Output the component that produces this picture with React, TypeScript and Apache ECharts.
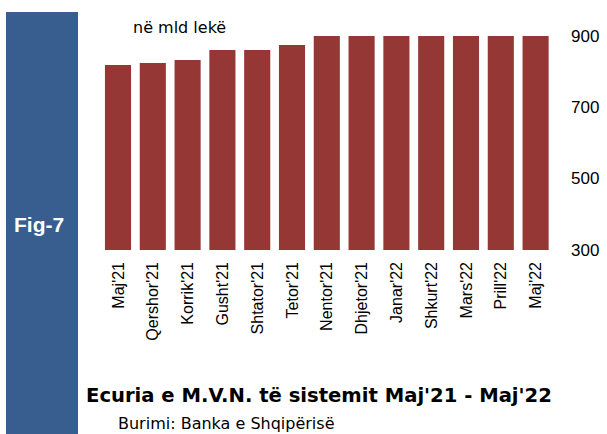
import React, { useEffect, useRef } from "react";
import * as echarts from "echarts";

const categories = ["Maj'21", "Qershor'21", "Korrik'21", "Gusht'21", "Shtator'21", "Tetor'21", "Nentor'21", "Dhjetor'21", "Janar'22", "Shkurt'22", "Mars'22", "Prill'22", "Maj'22"];
const values = [819, 824, 833, 861, 861, 875, 902, 902, 902, 902, 902, 902, 902];
const yTicks = { min: 300, max: 900, interval: 200 };
const titleText = "Ecuria e M.V.N. të sistemit Maj'21 - Maj'22";
const sourceText = "Burimi: Banka e Shqipërisë";
const unitText = "në mld lekë";
const figText = "Fig-7";

export default function App() {
  const ref = useRef<HTMLDivElement>(null);
  useEffect(() => {
    document.body.style.margin = "0";
    const chart = echarts.init(ref.current!, null, { renderer: "svg" });
    chart.setOption({
      animation: false,
      backgroundColor: "#ffffff",
      textStyle: { fontFamily: "Liberation Sans, Arial, sans-serif" },
      grid: { left: 100.6, right: 54, top: 36, bottom: 184 },
      xAxis: {
        type: "category",
        data: categories,
        axisLine: { show: false, onZero: false },
        axisTick: { show: false },
        axisLabel: { rotate: 90, margin: 12, fontSize: 16, color: "#000", interval: 0 },
      },
      yAxis: {
        type: "value",
        position: "right",
        min: yTicks.min,
        max: yTicks.max,
        interval: yTicks.interval,
        axisLine: { show: false },
        axisTick: { show: false },
        splitLine: { show: false },
        axisLabel: { margin: 18, fontSize: 17, color: "#000" },
      },
      series: [
        {
          type: "bar",
          data: values,
          clip: true,
          barCategoryGap: "25%",
          itemStyle: { color: "#953735" },
        },
      ],
      graphic: [
        { type: "rect", left: 6, top: 12, shape: { width: 72, height: 422 }, style: { fill: "#375E8E" } },
        { type: "text", left: 14, top: 214, style: { text: figText, fill: "#fff", fontSize: 21, fontWeight: "bold", fontFamily: "Liberation Sans, Arial, sans-serif" } },
        { type: "text", left: 133, top: 19, style: { text: unitText, fill: "#000", fontSize: 16, fontFamily: "DejaVu Sans, sans-serif" } },
        { type: "text", left: 86, top: 385, style: { text: titleText, fill: "#000", fontSize: 19.6, fontWeight: "bold", fontFamily: "DejaVu Sans, sans-serif" } },
        { type: "text", left: 118, top: 415, style: { text: sourceText, fill: "#000", fontSize: 16, fontFamily: "DejaVu Sans, sans-serif" } },
      ],
    });
    return () => chart.dispose();
  }, []);
  return <div ref={ref} style={{ width: 607, height: 434 }} />;
}
